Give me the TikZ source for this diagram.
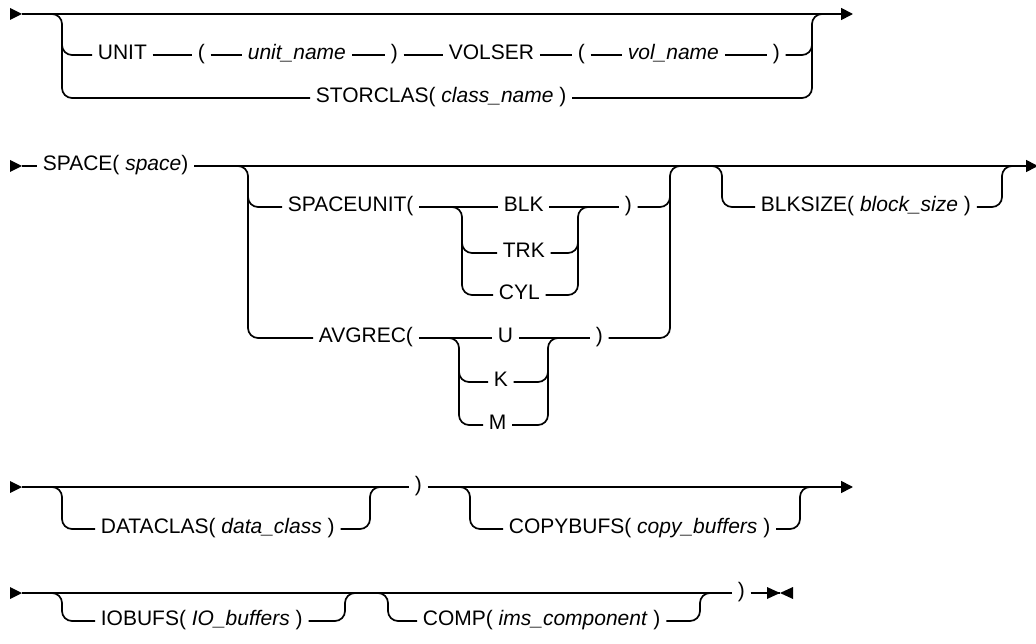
\documentclass[tikz,border=0pt]{standalone}
\usepackage{fontspec}
\setmainfont{Liberation Sans}
\usetikzlibrary{arrows.meta}
\begin{document}
\begin{tikzpicture}[x=1pt,y=-1pt,line width=1.7pt,
  tok/.style={anchor=west,inner xsep=5pt,inner ysep=0pt,text height=15pt,text depth=6.7pt,font=\fontsize{21}{25}\selectfont},
  branch/.style={rounded corners=10pt},
  endarrow/.style={-{Triangle[length=12pt,width=12pt]}}]
\useasboundingbox (0,0) rectangle (1036,644);
\newcommand{\startmark}[1]{\fill (#1) -- ++(-12,-6) -- ++(0,12) -- cycle;}

% ---------------- Row 1
\coordinate (r1s) at (22,14);
\coordinate (r1e) at (853,14);
\startmark{r1s}
\draw[endarrow] (r1s) -- (r1e);
\node[tok] (unit) at (92,55) {UNIT};
\node[tok] (lp1) at (192,55) {(};
\node[tok] (unitname) at (242,55) {\textit{unit\_name}};
\node[tok] (rp1) at (385,55) {)};
\node[tok] (volser) at (443,55) {VOLSER};
\node[tok] (lp2) at (572,55) {(};
\node[tok] (volname) at (622,55) {\textit{vol\_name}};
\node[tok] (rp2) at (767,55) {)};
\node[tok] (storclas) at (310,98) {STORCLAS( \textit{class\_name} )};
\draw (unit.east) -- (lp1.west);
\draw (lp1.east) -- (unitname.west);
\draw (unitname.east) -- (rp1.west);
\draw (rp1.east) -- (volser.west);
\draw (volser.east) -- (lp2.west);
\draw (lp2.east) -- (volname.west);
\draw (volname.east) -- (rp2.west);
\draw[branch] (40,14) -- (62,14) -- (62,98) -- (storclas.west);
\draw[branch] (62,35) -- (62,55) -- (unit.west);
\draw[branch] (storclas.east) -- (812,98) -- (812,14) -- (834,14);
\draw[branch] (rp2.east) -- (812,55) -- (812,35);

% ---------------- Row 2
\coordinate (r2s) at (22,166);
\coordinate (r2e) at (1038,166);
\startmark{r2s}
\node[tok] (space) at (37,166) {SPACE( \textit{space})};
\draw (r2s) -- (space.west);
\draw[endarrow] (space.east) -- (r2e);
% SPACEUNIT / AVGREC group
\node[tok] (spaceunit) at (282,207) {SPACEUNIT(};
\node[tok] (blk) at (498,207) {BLK};
\node[tok] (trk) at (497,253) {TRK};
\node[tok] (cyl) at (493,295) {CYL};
\node[tok] (rpa) at (619,207) {)};
\node[tok] (avgrec) at (313,338) {AVGREC(};
\node[tok] (uu) at (492,338) {U};
\node[tok] (kk) at (488,382) {K};
\node[tok] (mm) at (483,425) {M};
\node[tok] (rpb) at (590,338) {)};
\draw[branch] (226,166) -- (248,166) -- (248,338) -- (avgrec.west);
\draw[branch] (248,190) -- (248,207) -- (spaceunit.west);
\draw[branch] (rpb.east) -- (670,338) -- (670,166) -- (692,166);
\draw[branch] (rpa.east) -- (670,207) -- (670,190);
\draw (spaceunit.east) -- (blk.west);
\draw (blk.east) -- (rpa.west);
\draw[branch] (440,207) -- (462,207) -- (462,295) -- (cyl.west);
\draw[branch] (462,235) -- (462,253) -- (trk.west);
\draw[branch] (cyl.east) -- (578,295) -- (578,207) -- (600,207);
\draw[branch] (trk.east) -- (578,253) -- (578,235);
\draw (avgrec.east) -- (uu.west);
\draw (uu.east) -- (rpb.west);
\draw[branch] (437,338) -- (459,338) -- (459,425) -- (mm.west);
\draw[branch] (459,365) -- (459,382) -- (kk.west);
\draw[branch] (mm.east) -- (548,425) -- (548,338) -- (570,338);
\draw[branch] (kk.east) -- (548,382) -- (548,365);
% BLKSIZE group
\node[tok] (blksize) at (755,207) {BLKSIZE( \textit{block\_size} )};
\draw[branch] (700,166) -- (722,166) -- (722,207) -- (blksize.west);
\draw[branch] (blksize.east) -- (1002,207) -- (1002,166) -- (1024,166);

% ---------------- Row 3
\coordinate (r3s) at (22,487);
\coordinate (r3e) at (853,487);
\startmark{r3s}
\node[tok] (dataclas) at (95,529) {DATACLAS( \textit{data\_class} )};
\node[tok] (rp3) at (409,487) {)};
\node[tok] (copybufs) at (503,529) {COPYBUFS( \textit{copy\_buffers} )};
\draw (r3s) -- (rp3.west);
\draw[endarrow] (rp3.east) -- (r3e);
\draw[branch] (40,487) -- (62,487) -- (62,529) -- (dataclas.west);
\draw[branch] (dataclas.east) -- (370,529) -- (370,487) -- (392,487);
\draw[branch] (448,487) -- (470,487) -- (470,529) -- (copybufs.west);
\draw[branch] (copybufs.east) -- (800,529) -- (800,487) -- (822,487);

% ---------------- Row 4
\coordinate (r4s) at (22,593);
\coordinate (r4e) at (780,593);
\startmark{r4s}
\node[tok] (iobufs) at (95,621) {IOBUFS( \textit{IO\_buffers} )};
\node[tok] (comp) at (417,621) {COMP( \textit{ims\_component} )};
\node[tok] (rp4) at (732,593) {)};
\draw (r4s) -- (rp4.west);
\draw (rp4.east) -- (r4e);
\fill (r4e) -- ++(-13,-6) -- ++(0,12) -- cycle;
\fill (r4e) -- ++(13,-6) -- ++(0,12) -- cycle;
\draw[branch] (40,593) -- (62,593) -- (62,621) -- (iobufs.west);
\draw[branch] (iobufs.east) -- (345,621) -- (345,593) -- (367,593);
\draw[branch] (366,593) -- (388,593) -- (388,621) -- (comp.west);
\draw[branch] (comp.east) -- (700,621) -- (700,593) -- (722,593);
\end{tikzpicture}
\end{document}
